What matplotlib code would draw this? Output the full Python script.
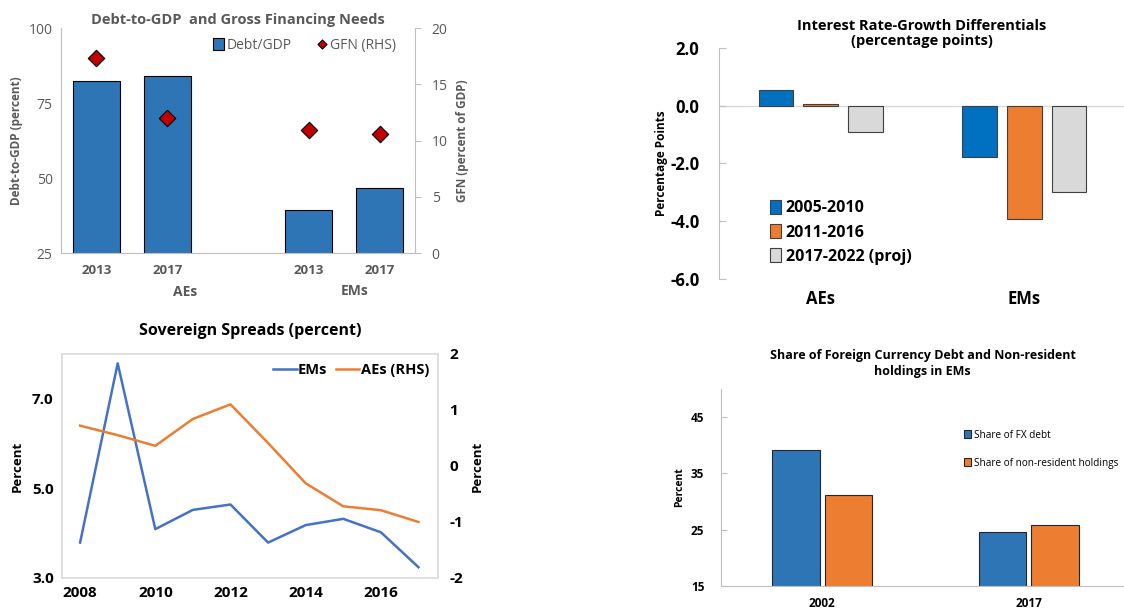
import numpy as np
import matplotlib
matplotlib.use('Agg')
import matplotlib.pyplot as plt

plt.rcParams['font.family'] = ['Open Sans', 'DejaVu Sans']

# --- data ---
debt_labels = ['2013', '2017', '2013', '2017']
debt_pos = [0, 1, 3, 4]
debt_gdp = [82.3, 83.9, 39.4, 46.6]
gfn = [17.3, 12.0, 10.9, 10.6]

irg_groups = ['AEs', 'EMs']
irg_2005_2010 = [0.55, -1.76]
irg_2011_2016 = [0.06, -3.93]
irg_2017_2022 = [-0.91, -3.0]

years = [2008, 2009, 2010, 2011, 2012, 2013, 2014, 2015, 2016, 2017]
spread_ems = [3.79, 7.79, 4.09, 4.52, 4.64, 3.79, 4.18, 4.32, 4.02, 3.24]
spread_aes = [0.72, 0.55, 0.36, 0.84, 1.10, 0.41, -0.31, -0.72, -0.79, -1.00]

fx_years = ['2002', '2017']
fx_debt = [39.1, 24.6]
nonres = [31.2, 25.9]

grey = '#595959'
spine_c = '#BFBFBF'

fig = plt.figure(figsize=(11.24, 6.12), dpi=100)

# ---------- panel 1: Debt-to-GDP and GFN ----------
ax1 = fig.add_axes([0.0543, 0.5866, 0.3149, 0.3676])
ax1.bar(debt_pos, debt_gdp, width=0.66, color='#2E75B6', edgecolor='black',
        linewidth=0.8, label='Debt/GDP', zorder=2)
ax1.set_ylim(25, 100)
ax1.set_yticks([25, 50, 75, 100])
ax1.set_xlim(-0.5, 4.5)
ax1.set_xticks(debt_pos)
ax1.set_xticklabels(debt_labels, fontweight='bold', color=grey, fontsize=9.5)
ax1.tick_params(axis='y', colors=grey, labelsize=10, length=0, pad=6)
ax1.tick_params(axis='x', length=0, pad=8)
ax1.set_ylabel('Debt-to-GDP (percent)', fontweight='bold', color=grey,
               fontsize=8.5, labelpad=4)
for s in ['left', 'bottom']:
    ax1.spines[s].set_color(spine_c)
ax1.spines['top'].set_visible(False)
ax1.spines['right'].set_visible(False)
ax1.text(1.25, -0.175, 'AEs', transform=ax1.get_xaxis_transform(), ha='center',
         va='center', fontweight='bold', color=grey, fontsize=10)
ax1.text(3.65, -0.17, 'EMs', transform=ax1.get_xaxis_transform(), ha='center',
         va='center', fontweight='bold', color=grey, fontsize=10)

ax1r = ax1.twinx()
ax1r.scatter(debt_pos, gfn, marker='D', s=70, color='#C00000', edgecolor='black',
             linewidth=0.8, label='GFN (RHS)', zorder=3)
ax1r.set_ylim(0, 20)
ax1r.set_yticks([0, 5, 10, 15, 20])
ax1r.tick_params(axis='y', colors=grey, labelsize=10, length=4, direction='out',
                 pad=8)
ax1r.tick_params(axis='y', color=spine_c)
ax1r.set_ylabel('GFN (percent of GDP)', fontweight='bold', color=grey,
                fontsize=8.5, labelpad=6)
ax1r.spines['right'].set_color(spine_c)
ax1r.spines['left'].set_visible(False)
ax1r.spines['top'].set_visible(False)
ax1r.spines['bottom'].set_visible(False)
h1, l1 = ax1.get_legend_handles_labels()
h2, l2 = ax1r.get_legend_handles_labels()
leg = ax1r.legend(h1 + h2, l1 + l2, loc='upper right', ncol=2, frameon=False,
                  fontsize=10, handlelength=0.8, handleheight=0.9,
                  handletextpad=0.2, markerscale=0.55, columnspacing=1.8,
                  borderaxespad=0.3, bbox_to_anchor=(0.975, 1.0))
for t in leg.get_texts():
    t.set_color(grey)
ax1.set_title('Debt-to-GDP  and Gross Financing Needs', fontweight='bold',
              color=grey, fontsize=10.5, pad=3)

# ---------- panel 2: interest rate-growth differentials ----------
ax2 = fig.add_axes([0.6397, 0.5441, 0.3603, 0.3775])
x = np.arange(len(irg_groups))
w = 0.17
step = 0.22
ax2.bar(x - step, irg_2005_2010, width=w, color='#0070C0', edgecolor='#404040',
        linewidth=0.8, label='2005-2010', zorder=2)
ax2.bar(x, irg_2011_2016, width=w, color='#ED7D31', edgecolor='#404040',
        linewidth=0.8, label='2011-2016', zorder=2)
ax2.bar(x + step, irg_2017_2022, width=w, color='#D9D9D9', edgecolor='#404040',
        linewidth=0.8, label='2017-2022 (proj)', zorder=2)
ax2.axhline(0, color='#D9D9D9', linewidth=1, zorder=1)
ax2.set_ylim(-6, 2)
ax2.set_yticks([-6, -4, -2, 0, 2])
ax2.set_yticklabels(['-6.0', '-4.0', '-2.0', '0.0', '2.0'], fontweight='bold',
                    fontsize=12)
ax2.set_xlim(-0.5, 1.49)
ax2.set_xticks(x)
ax2.set_xticklabels(irg_groups, fontweight='bold', fontsize=12)
ax2.tick_params(axis='y', direction='in', length=5, color=spine_c, pad=14)
ax2.tick_params(axis='x', length=0, pad=8)
ax2.spines['left'].set_color(spine_c)
for s in ['top', 'right', 'bottom']:
    ax2.spines[s].set_visible(False)
ax2.set_ylabel('Percentage Points', fontweight='bold', fontsize=8.5, labelpad=2)
ax2.legend(loc='lower left', bbox_to_anchor=(0.09, 0.0), frameon=False,
           prop={'weight': 'bold', 'size': 11.5}, handlelength=0.7,
           handleheight=0.9, handletextpad=0.3, labelspacing=0.5)
ax2.set_title('Interest Rate-Growth Differentials\n(percentage points)',
              fontweight='bold', fontsize=10.5, pad=2, linespacing=1.1)

# ---------- panel 3: sovereign spreads ----------
ax3 = fig.add_axes([0.0552, 0.0556, 0.3345, 0.3660])
ax3.plot(years, spread_ems, color='#4472C4', linewidth=1.8, label='EMs')
ax3.set_ylim(3, 8)
ax3.set_yticks([3, 5, 7])
ax3.set_yticklabels(['3.0', '5.0', '7.0'], fontweight='bold', fontsize=11)
ax3.set_xlim(2007.52, 2017.52)
ax3.set_xticks([2008, 2010, 2012, 2014, 2016])
ax3.set_xticklabels(['2008', '2010', '2012', '2014', '2016'], fontweight='bold',
                    fontsize=11)
ax3.tick_params(length=0, pad=6)
ax3.set_ylabel('Percent', fontweight='bold', fontsize=9.5, labelpad=6)
for s in ax3.spines.values():
    s.set_color('#D9D9D9')
    s.set_linewidth(1.2)
ax3r = ax3.twinx()
ax3r.plot(years, spread_aes, color='#ED7D31', linewidth=1.8, label='AEs (RHS)')
ax3r.set_ylim(-2, 2)
ax3r.set_yticks([-2, -1, 0, 1, 2])
ax3r.set_yticklabels(['-2', '-1', '0', '1', '2'], fontweight='bold', fontsize=11)
ax3r.tick_params(length=0, pad=8)
ax3r.set_ylabel('Percent', fontweight='bold', fontsize=9.5, labelpad=6)
for s in ax3r.spines.values():
    s.set_visible(False)
h1, l1 = ax3.get_legend_handles_labels()
h2, l2 = ax3r.get_legend_handles_labels()
ax3r.legend(h1 + h2, l1 + l2, loc='upper right', ncol=2, frameon=False,
            prop={'weight': 'bold', 'size': 10.5}, handlelength=1.6,
            handletextpad=0.1, columnspacing=0.6, borderaxespad=0.2)
ax3.set_title('Sovereign Spreads (percent)', fontweight='bold', fontsize=11.5,
              pad=14)

# ---------- panel 4: FX debt and non-resident holdings ----------
ax4 = fig.add_axes([0.6415, 0.0425, 0.3585, 0.3219])
xx = np.arange(len(fx_years))
ax4.bar(xx - 0.127, fx_debt, width=0.23, color='#2E75B6', edgecolor='#262626',
        linewidth=0.8, label='Share of FX debt', zorder=2)
ax4.bar(xx + 0.127, nonres, width=0.23, color='#ED7D31', edgecolor='#262626',
        linewidth=0.8, label='Share of non-resident holdings', zorder=2)
ax4.set_ylim(15, 50)
ax4.set_yticks([15, 25, 35, 45])
ax4.set_yticklabels(['15', '25', '35', '45'], fontweight='bold', fontsize=8.5)
ax4.set_xlim(-0.49, 1.46)
ax4.set_xticks(xx)
ax4.set_xticklabels(fx_years, fontweight='bold', fontsize=8.5)
ax4.tick_params(axis='y', direction='in', length=4, color=spine_c, pad=12)
ax4.tick_params(axis='x', length=0, pad=8)
ax4.spines['left'].set_color(spine_c)
ax4.spines['bottom'].set_color(spine_c)
ax4.spines['top'].set_visible(False)
ax4.spines['right'].set_visible(False)
ax4.set_ylabel('Percent', fontweight='bold', fontsize=7.5)
ax4.legend(loc='upper left', bbox_to_anchor=(0.58, 0.84), frameon=False,
           fontsize=7.2, handlelength=0.7, handleheight=0.9, handletextpad=0.3,
           labelspacing=1.7)
ax4.set_title('Share of Foreign Currency Debt and Non-resident\nholdings in EMs',
              fontweight='bold', fontsize=9, pad=10, linespacing=1.3)

fig.savefig('out.png', dpi=100)
